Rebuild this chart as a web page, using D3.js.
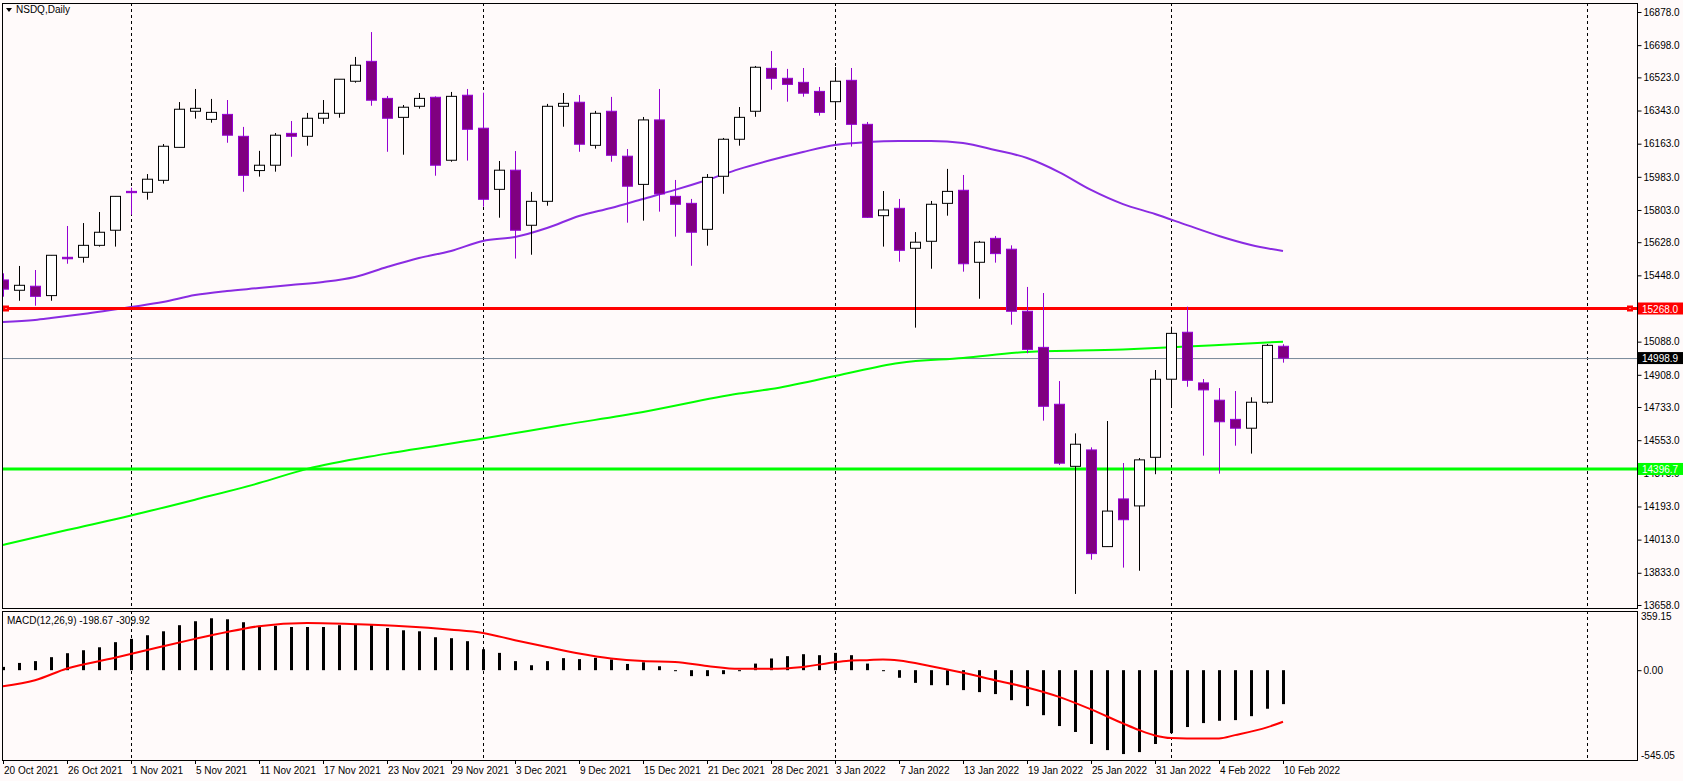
<!DOCTYPE html>
<html><head><meta charset="utf-8">
<script src="https://cdn.jsdelivr.net/npm/d3@7/dist/d3.min.js"></script>
<style>body{margin:0;background:#fffafa;}svg{display:block;}text{font-family:"Liberation Sans",Arial,sans-serif;font-size:10px;}</style>
</head><body><svg id="c" width="1683" height="781"></svg>
<script>
// ---- data ----
const opens  = [15423,15367,15389,15338,15546,15546,15611,15693,15904,15899,15964,16143,16339,16295,16322,16203,16017,16046,16219,16203,16301,16328,16502,16610,16409,16306,16366,16415,16073,16426,16247,15915,16019,15720,15850,16366,16388,16154,16339,16095,15942,16292,15877,15839,15698,15986,16187,16339,16572,16518,16496,16447,16391,16507,16268,15772,15812,15595,15633,15839,15910,15519,15649,15590,15253,15057,14748,14411,14500,13975,14234,14196,14460,14884,15139,14864,14770,14666,14618,14759,15063];
const highs  = [15459,15499,15477,15557,15716,15732,15792,15877,15924,15998,16161,16389,16460,16406,16400,16254,16124,16221,16286,16330,16400,16513,16634,16769,16422,16373,16438,16420,16444,16460,16440,16069,16123,15901,16379,16438,16427,16341,16417,16134,16308,16460,15966,15863,15998,16194,16362,16585,16666,16569,16574,16471,16579,16574,16281,15906,15863,15683,15852,16026,15993,15635,15662,15611,15385,15352,14874,14590,14514,14657,14429,14456,14934,15169,15278,14885,14836,14820,14786,15075,15074];
const lows   = [15332,15310,15283,15310,15511,15517,15604,15604,15777,15859,15946,16143,16299,16277,16168,15902,15984,16011,16092,16152,16271,16304,16494,16369,16119,16103,16353,15989,16065,16071,15821,15761,15539,15560,15826,16255,16119,16136,16065,15734,15745,15794,15658,15500,15609,15891,16152,16309,16456,16391,16418,16315,16292,16147,15760,15604,15522,15164,15484,15772,15468,15321,15517,15180,15025,14659,14418,13718,13904,13975,13861,13844,14368,14737,14843,14469,14371,14523,14480,14751,14974];
const closes = [15373,15394,15334,15557,15538,15611,15682,15877,15897,15970,16149,16350,16355,16333,16209,15991,16046,16209,16203,16301,16328,16513,16589,16399,16301,16361,16409,16046,16420,16241,15861,16019,15693,15850,16366,16382,16160,16328,16100,15932,16292,15890,15834,15682,15980,16187,16306,16578,16518,16485,16437,16333,16502,16268,15763,15803,15584,15628,15834,15904,15511,15628,15566,15253,15046,14737,14428,14531,13937,14168,14121,14446,14884,15133,14878,14826,14653,14618,14759,15068,14998.9];
const dateLabels = ["20 Oct 2021","26 Oct 2021","1 Nov 2021","5 Nov 2021","11 Nov 2021","17 Nov 2021","23 Nov 2021","29 Nov 2021","3 Dec 2021","9 Dec 2021","15 Dec 2021","21 Dec 2021","28 Dec 2021","3 Jan 2022","7 Jan 2022","13 Jan 2022","19 Jan 2022","25 Jan 2022","31 Jan 2022","4 Feb 2022","10 Feb 2022"];
const labelEvery = 4;
const monthStartBars = [8,30,52,73,99];
const maSlowIdx = [0,2,3,5,8,10,12,14,16,18,20,22,24,26,28,30,32,34,36,38,40,42,44,46,48,50,52,54,56,58,60,62,64,66,68,70,72,74,76,78,80];
const maSlowVal = [15195,15206,15216,15238,15276,15303,15341,15363,15379,15396,15412,15439,15493,15542,15580,15635,15656,15705,15770,15814,15863,15912,15966,16025,16074,16118,16156,16172,16178,16178,16167,16129,16085,16009,15912,15835,15781,15721,15662,15613,15580];
const maLongIdx = [0,4,8,12,16,19,24,30,35,40,46,48,52,56,60,64,70,73,76,80];
const maLongVal = [13984,14065,14144,14230,14320,14397,14480,14562,14635,14706,14806,14831,14901,14972,14999,15032,15045,15057,15070,15088];
const macdHist = [20,44,55,79,103,121,139,170,190,212,236,273,297,315,309,291,269,269,262,262,262,273,277,273,256,242,236,200,194,176,127,105,55,30,55,73,67,75,65,38,48,24,-4,-36,-36,-24,-5,40,71,85,97,91,105,91,40,-4,-46,-77,-91,-91,-121,-133,-145,-182,-218,-273,-339,-375,-448,-485,-509,-497,-448,-382,-345,-321,-307,-303,-279,-234,-206];
const sigIdx = [0,2,4,7,10,12,14,16,19,22,25,28,30,32,34,36,38,40,42,44,46,48,50,52,53,54,55,56,58,60,62,64,66,68,70,71,72,73,74,76,77,79,80];
const sigVal = [-97,-61,10,75,145,190,232,267,287,279,267,246,226,182,141,101,71,55,50,26,8,8,20,48,59,61,65,59,24,-16,-61,-105,-162,-238,-323,-363,-396,-412,-414,-414,-394,-347,-313];
const priceTicks = [16878,16698,16523,16343,16163,15983,15803,15628,15448,15268,15088,14908,14733,14553,14373,14193,14013,13833,13658];
const resistance = 15268.0, support = 14396.7, lastPrice = 14998.9;
const macdTop = 359.15, macdBottom = -545.05;

// ---- layout ----
const svg = d3.select("#c");
const L = 2, R = 1637, T = 3, B = 608, MT = 611, MB = 760;
const xs = d3.scaleLinear().domain([0,1]).range([3,19]);
const y = d3.scaleLinear().domain([16878,13658]).range([12,605]);
const ym = d3.scaleLinear().domain([macdTop, macdBottom]).range([MT, MB]);

svg.append("rect").attr("width",1683).attr("height",781).attr("fill","#fffafa");
const defs = svg.append("defs");
defs.append("clipPath").attr("id","cp").append("rect").attr("x",L).attr("y",T).attr("width",R-L).attr("height",B-T);
defs.append("clipPath").attr("id","cpm").append("rect").attr("x",L).attr("y",MT).attr("width",R-L).attr("height",MB-MT);

monthStartBars.forEach(b=>{
  [[T,B],[MT,MB]].forEach(([a,c])=>svg.append("line").attr("x1",xs(b)+0.5).attr("x2",xs(b)+0.5).attr("y1",a).attr("y2",c)
    .attr("stroke","#000").attr("stroke-dasharray","3,3").attr("stroke-width",1));
});

const g = svg.append("g").attr("clip-path","url(#cp)");
g.append("line").attr("x1",L).attr("x2",R).attr("y1",y(lastPrice)+0.5).attr("y2",y(lastPrice)+0.5).attr("stroke","#778899");
const curve = d3.curveMonotoneX;
g.append("path").attr("d", d3.line().x((d,k)=>xs(maLongIdx[k])).y(d=>y(d)).curve(curve)(maLongVal))
  .attr("fill","none").attr("stroke","#00ff00").attr("stroke-width",2);
g.append("path").attr("d", d3.line().x((d,k)=>xs(maSlowIdx[k])).y(d=>y(d)).curve(curve)(maSlowVal))
  .attr("fill","none").attr("stroke","#8a2be2").attr("stroke-width",2);
g.append("line").attr("x1",L).attr("x2",R).attr("y1",y(resistance)).attr("y2",y(resistance)).attr("stroke","#ff0000").attr("stroke-width",3);
g.append("line").attr("x1",L).attr("x2",R).attr("y1",y(support)).attr("y2",y(support)).attr("stroke","#00ff00").attr("stroke-width",3);
[L+1, R-10].forEach(px=>{
  g.append("rect").attr("x",px).attr("y",y(resistance)-3).attr("width",6).attr("height",6).attr("fill","#ff0000");
  g.append("rect").attr("x",px+2.5).attr("y",y(resistance)-0.5).attr("width",1).attr("height",1).attr("fill","#fff");
});
opens.forEach((o,i)=>{
  const c = closes[i], bull = c>=o;
  const cx = Math.round(xs(i))+0.5;
  const wc = bull?"#000":"#9400d3";
  g.append("line").attr("x1",cx).attr("x2",cx).attr("y1",y(highs[i])).attr("y2",y(lows[i])).attr("stroke",wc);
  const top = y(Math.max(o,c)), bot = y(Math.min(o,c));
  g.append("rect").attr("x",cx-5).attr("y",top).attr("width",10).attr("height",Math.max(1,bot-top))
    .attr("fill",bull?"#fff":"#800080").attr("stroke",wc).attr("stroke-width",1);
});

const gm = svg.append("g").attr("clip-path","url(#cpm)");
macdHist.forEach((v,i)=>{
  gm.append("rect").attr("x",Math.round(xs(i))-1).attr("y",Math.min(ym(0),ym(v))).attr("width",3)
    .attr("height",Math.max(1,Math.abs(ym(v)-ym(0)))).attr("fill","#000");
});
gm.append("path").attr("d", d3.line().x((d,k)=>xs(sigIdx[k])).y(d=>ym(d)).curve(curve)(sigVal))
  .attr("fill","none").attr("stroke","#ff0000").attr("stroke-width",2);

svg.append("rect").attr("x",L+0.5).attr("y",T+0.5).attr("width",R-L).attr("height",B-T).attr("fill","none").attr("stroke","#000");
svg.append("rect").attr("x",L+0.5).attr("y",MT+0.5).attr("width",R-L).attr("height",MB-MT).attr("fill","none").attr("stroke","#000");

const pa = svg.append("g").attr("transform",`translate(${R+0.5},0)`);
pa.call(d3.axisRight(y).tickValues(priceTicks).tickSize(4).tickFormat(d3.format(".1f")));
pa.select(".domain").remove();
pa.selectAll("text").attr("fill","#000").attr("x",6).style("font-size","10px").style("font-family","Liberation Sans, Arial, sans-serif");
function tag(v, fill, txt){
  const yy = y(v);
  svg.append("rect").attr("x",R+1).attr("y",yy-6).attr("width",45).attr("height",12).attr("fill",fill);
  svg.append("text").attr("x",R+5).attr("y",yy+4).attr("fill","#fff").text(txt);
}
tag(resistance,"#ff0000",resistance.toFixed(1));
tag(lastPrice,"#000",lastPrice.toFixed(1));
tag(support,"#00ff00",support.toFixed(1));

const ma = svg.append("g").attr("transform",`translate(${R+0.5},0)`);
ma.call(d3.axisRight(ym).tickValues([0]).tickSize(4).tickFormat(d3.format(".2f")));
ma.select(".domain").remove();
ma.selectAll("text").attr("x",6).attr("fill","#000").style("font-size","10px").style("font-family","Liberation Sans, Arial, sans-serif");
svg.append("text").attr("x",R+4).attr("y",MT+9).text(macdTop.toFixed(2));
svg.append("text").attr("x",R+4).attr("y",MB-1).text(macdBottom.toFixed(2));

dateLabels.forEach((t,k)=>{
  const bx = Math.round(xs(k*labelEvery));
  svg.append("line").attr("x1",bx+0.5).attr("x2",bx+0.5).attr("y1",MB).attr("y2",MB+4).attr("stroke","#000");
  svg.append("text").attr("x",bx+1).attr("y",774).text(t);
});

svg.append("path").attr("d","M6,8 L12,8 L9,12 Z").attr("fill","#000");
svg.append("text").attr("x",16).attr("y",13).text("NSDQ,Daily");
svg.append("text").attr("x",7).attr("y",624).text("MACD(12,26,9) -198.67 -309.92");
</script></body></html>
